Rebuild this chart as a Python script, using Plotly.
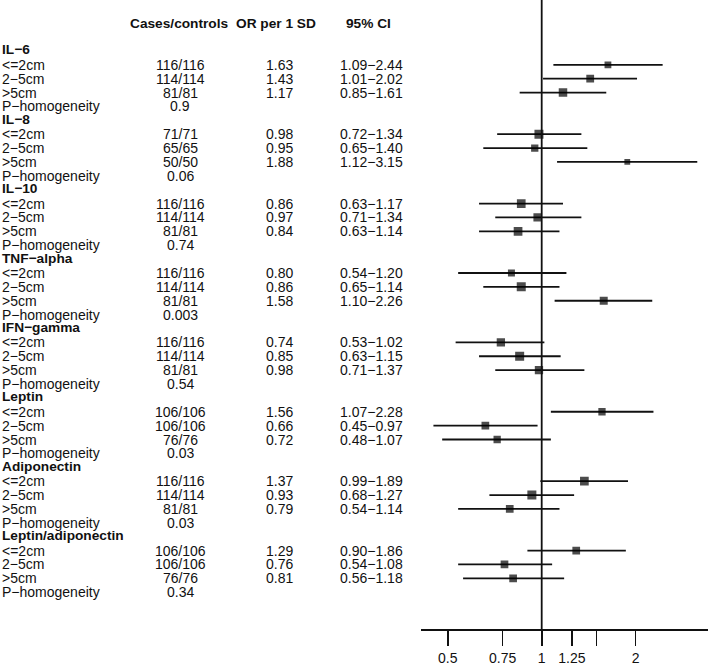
import plotly.graph_objects as go

# ── Data ────────────────────────────────────────────────────────────────────
biomarkers = ["IL−6", "IL−8", "IL−10", "TNF−alpha", "IFN−gamma",
              "Leptin", "Adiponectin", "Leptin/adiponectin"]
size_groups = ["<=2cm", "2−5cm", ">5cm"]

cases_controls = [
    ["116/116", "114/114", "81/81"],
    ["71/71", "65/65", "50/50"],
    ["116/116", "114/114", "81/81"],
    ["116/116", "114/114", "81/81"],
    ["116/116", "114/114", "81/81"],
    ["106/106", "106/106", "76/76"],
    ["116/116", "114/114", "81/81"],
    ["106/106", "106/106", "76/76"],
]
odds_ratio = [
    [1.63, 1.43, 1.17],
    [0.98, 0.95, 1.88],
    [0.86, 0.97, 0.84],
    [0.80, 0.86, 1.58],
    [0.74, 0.85, 0.98],
    [1.56, 0.66, 0.72],
    [1.37, 0.93, 0.79],
    [1.29, 0.76, 0.81],
]
ci_low = [
    [1.09, 1.01, 0.85],
    [0.72, 0.65, 1.12],
    [0.63, 0.71, 0.63],
    [0.54, 0.65, 1.10],
    [0.53, 0.63, 0.71],
    [1.07, 0.45, 0.48],
    [0.99, 0.68, 0.54],
    [0.90, 0.54, 0.56],
]
ci_high = [
    [2.44, 2.02, 1.61],
    [1.34, 1.40, 3.15],
    [1.17, 1.34, 1.14],
    [1.20, 1.14, 2.26],
    [1.02, 1.15, 1.37],
    [2.28, 0.97, 1.07],
    [1.89, 1.27, 1.14],
    [1.86, 1.08, 1.18],
]
p_homogeneity = ["0.9", "0.06", "0.74", "0.003", "0.54", "0.03", "0.03", "0.34"]

tick_vals = [0.5, 0.75, 1, 1.25, 1.5, 2]
tick_text = ["0.5", "0.75", "1", "1.25", "", "2"]

# box sizes (px) as drawn in the reference
box_px = [
    [6.8, 7.8, 8.5], [9, 7.3, 5.8], [8.7, 8.3, 8.7], [7, 9, 8],
    [8.3, 9, 8.3], [7.3, 7.7, 7.3], [8.7, 9, 7.7], [7.7, 7.7, 7.7],
]

# ── Geometry (figure pixels) ───────────────────────────────────────────────
W, H = 711, 666
FONT = "Liberation Sans, Arial, Helvetica, sans-serif"
INK = "#111111"
COL_CASES, COL_OR, COL_CI = 180, 279, 371


def px(x):
    return x / W


fig = go.Figure()

# ── Rows ───────────────────────────────────────────────────────────────────
line_x, line_y = [], []
pt_x, pt_y, pt_s = [], [], []
annotations = []


def text(x, y, s, bold=False, anchor="center", shift=0):
    annotations.append(dict(
        x=px(x), y=y, xref="paper", yref="y", text=f"<b>{s}</b>" if bold else s,
        showarrow=False, xanchor=anchor, yanchor="middle", yshift=shift,
        borderpad=0,
        font=dict(family=FONT, size=13.7 if bold else 14, color=INK),
    ))


# column headers
text(179, -2, "Cases/controls", bold=True)
text(276, -2, "OR per 1 SD", bold=True)
text(368, -2, "95% CI", bold=True)

row = 0
for g, name in enumerate(biomarkers):
    text(1, row, name, bold=True, anchor="left", shift=1)
    row += 1
    for k, sub in enumerate(size_groups):
        text(1, row, sub, anchor="left")
        text(COL_CASES, row, cases_controls[g][k])
        text(COL_OR, row, f"{odds_ratio[g][k]:.2f}")
        text(COL_CI, row, f"{ci_low[g][k]:.2f}−{ci_high[g][k]:.2f}")
        line_x += [ci_low[g][k], ci_high[g][k], None]
        line_y += [row, row, None]
        pt_x.append(odds_ratio[g][k])
        pt_y.append(row)
        pt_s.append(box_px[g][k])
        row += 1
    text(1, row, "P−homogeneity", anchor="left")
    text(COL_CASES, row, p_homogeneity[g])
    row += 1

fig.add_trace(go.Scatter(
    x=line_x, y=line_y, mode="lines",
    line=dict(color="#111111", width=1.8),
    hoverinfo="skip", showlegend=False,
))
fig.add_trace(go.Scatter(
    x=pt_x, y=pt_y, mode="markers",
    marker=dict(symbol="square", size=pt_s, color="#000000", line=dict(width=0)),
    hoverinfo="skip", showlegend=False,
))

# reference line at OR = 1
fig.add_shape(type="line", xref="x", yref="y domain", x0=1, x1=1, y0=0, y1=1,
              line=dict(color=INK, width=1.8))

# ── Layout ─────────────────────────────────────────────────────────────────
# log scale: OR=1 at 541.7px, 312.2px per decade; axis spans 420.7..708.3px
x_left, x_right = 420.7, 708.3
ref_px, decade_px = 541.7, 312.2
axis_bottom = 631
row0_px, row_px = 51.08, 13.92

fig.update_layout(
    width=W, height=H,
    margin=dict(l=0, r=0, t=0, b=0),
    plot_bgcolor="white", paper_bgcolor="white",
    annotations=annotations,
    xaxis=dict(
        type="log",
        domain=[px(x_left), px(x_right)],
        range=[(x_left - ref_px) / decade_px, (x_right - ref_px) / decade_px],
        tickvals=tick_vals, ticktext=tick_text,
        ticks="outside", ticklen=15, tickwidth=1.6, tickcolor=INK,
        showline=True, linecolor=INK, linewidth=1.8,
        showgrid=False, zeroline=False,
        tickfont=dict(family=FONT, size=14, color=INK),
    ),
    yaxis=dict(
        visible=False,
        domain=[(H - axis_bottom) / H, 1],
        range=[(axis_bottom - row0_px) / row_px, -row0_px / row_px],
        showgrid=False, zeroline=False,
    ),
)

# drop the page's default body margin so the figure sits at the window corner
fig.write_html(
    "out.html",
    config={"displayModeBar": False, "staticPlot": True},
    post_script="document.body.style.margin='0';",
)
